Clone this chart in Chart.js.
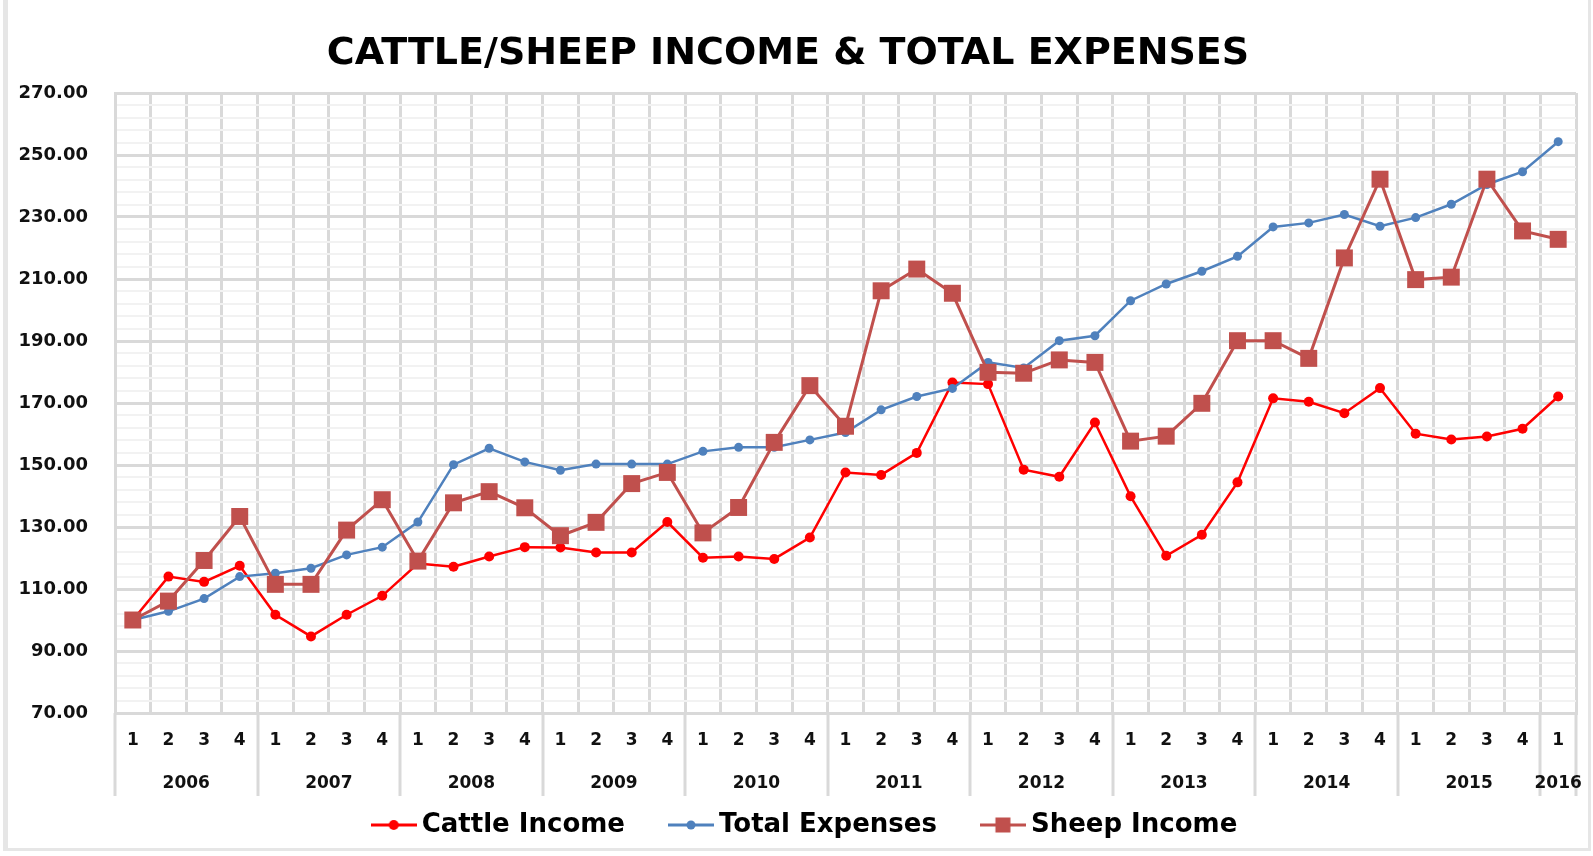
<!DOCTYPE html>
<html>
<head>
<meta charset="utf-8">
<script src="https://cdn.jsdelivr.net/npm/chart.js@4.4.1/dist/chart.umd.min.js"></script>
<style>
  html, body { margin: 0; padding: 0; background: #fff; }
  #wrap { position: relative; width: 1593px; height: 856px; }
  #frame { position: absolute; left: 3px; top: 0; width: 1580px; height: 848px;
           border-left: 5px solid #e6e6e6; border-right: 3px solid #e6e6e6; border-bottom: 3px solid #e6e6e6; }
  #myChart { position: absolute; left: 0; top: 0; }
</style>
</head>
<body>
<div id="wrap">
  <div id="frame"></div>
  <canvas id="myChart" width="1593" height="856"></canvas>
</div>
<script>
// Quarter labels, 2006 Q1 .. 2016 Q1
const quarters = [
    '1', '2', '3', '4', '1', '2', '3', '4', '1', '2', '3', '4',
    '1', '2', '3', '4', '1', '2', '3', '4', '1', '2', '3', '4',
    '1', '2', '3', '4', '1', '2', '3', '4', '1', '2', '3', '4',
    '1', '2', '3', '4', '1'
];
const years = ['2006', '2007', '2008', '2009', '2010', '2011', '2012', '2013', '2014', '2015', '2016'];
const quartersPerYear = [4, 4, 4, 4, 4, 4, 4, 4, 4, 4, 1];

// Index values (2006 Q1 = 100)
const cattleIncome = [
    100, 114.0, 112.3, 117.5, 101.7, 94.7, 101.7, 107.8, 118.2, 117.2, 120.5,
    123.5, 123.4, 121.8, 121.8, 131.6, 120.1, 120.5, 119.7, 126.6, 147.6,
    146.8, 153.9, 176.6, 176.1, 148.5, 146.2, 163.7, 139.9, 120.7, 127.5,
    144.4, 171.5, 170.4, 166.7, 174.8, 160.1, 158.2, 159.2, 161.7, 172.1
];
const totalExpenses = [
    100, 102.8, 106.9, 114.0, 115.1, 116.7, 121.0, 123.5, 131.6, 150.1, 155.4,
    151.0, 148.3, 150.3, 150.3, 150.3, 154.4, 155.7, 155.7, 158.1, 160.5,
    167.8, 172.1, 174.7, 183.1, 181.3, 190.1, 191.7, 203.0, 208.4, 212.5,
    217.3, 226.8, 228.1, 230.8, 227.0, 229.8, 234.1, 240.5, 244.6, 254.3
];
const sheepIncome = [
    100, 106.1, 119.2, 133.4, 111.5, 111.5, 129.0, 138.8, 119.0, 137.8, 141.4,
    136.2, 127.2, 131.5, 144.0, 147.6, 128.1, 136.3, 157.3, 175.6, 162.5,
    206.2, 213.2, 205.4, 179.9, 179.6, 183.9, 183.1, 157.7, 159.3, 169.9,
    190.1, 190.1, 184.4, 216.8, 242.2, 209.8, 210.6, 242.2, 225.5, 222.8
];

const RED = '#ff0000';
const BLUE = '#4f81bd';
const BRICK = '#c0504d';
const GRID = '#d9d9d9';
const MINOR = '#f2f2f2';
const TEXT = '#111111';
const FONT = "'DejaVu Sans', Verdana, sans-serif";

// Small line + marker icon for the legend (Excel style)
function legendIcon(color, style, r) {
    const c = document.createElement('canvas');
    c.width = 46;
    c.height = 20;
    const g = c.getContext('2d');
    g.strokeStyle = color;
    g.fillStyle = color;
    g.lineWidth = 3;
    g.beginPath();
    g.moveTo(0, 10);
    g.lineTo(46, 10);
    g.stroke();
    if (style === 'rect') {
        g.fillRect(23 - r, 10 - r, 2 * r, 2 * r);
    } else {
        g.beginPath();
        g.arc(23, 10, r, 0, Math.PI * 2);
        g.fill();
    }
    return c;
}
const icons = [legendIcon(RED, 'circle', 5), legendIcon(BLUE, 'circle', 4.5), legendIcon(BRICK, 'rect', 7.5)];

// Year labels and year separators under the quarter labels
const yearAxis = {
    id: 'yearAxis',
    afterLayout(chart) {
        // legend row sits a little right of centre in the original
        chart.legend.left += 40;
    },
    afterDraw(chart) {
        const x = chart.scales.x;
        const ctx = chart.ctx;
        const top = x.top;
        ctx.save();
        ctx.strokeStyle = GRID;
        ctx.lineWidth = 3;
        ctx.fillStyle = TEXT;
        ctx.font = 'bold 17px ' + FONT;
        ctx.textAlign = 'center';
        ctx.textBaseline = 'middle';
        let start = 0;
        years.forEach((yr, i) => {
            const left = x.getPixelForValue(start - 0.5);
            const right = x.getPixelForValue(start + quartersPerYear[i] - 0.5);
            ctx.beginPath();
            ctx.moveTo(Math.round(left), top);
            ctx.lineTo(Math.round(left), top + 83);
            ctx.stroke();
            if (i === years.length - 1) {
                ctx.beginPath();
                ctx.moveTo(Math.round(right), top);
                ctx.lineTo(Math.round(right), top + 83);
                ctx.stroke();
            }
            ctx.fillText(yr, (left + right) / 2, top + 71);
            start += quartersPerYear[i];
        });
        ctx.restore();
    }
};

const ctx = document.getElementById('myChart').getContext('2d');

const myChart = new Chart(ctx, {
    type: 'line',
    data: {
        labels: quarters,
        datasets: [{
            label: 'Cattle Income',
            data: cattleIncome,
            borderColor: RED,
            backgroundColor: RED,
            borderWidth: 2.5,
            pointRadius: 5,
            pointBorderWidth: 0,
            order: 3
        }, {
            label: 'Total Expenses',
            data: totalExpenses,
            borderColor: BLUE,
            backgroundColor: BLUE,
            borderWidth: 2.5,
            pointRadius: 4.5,
            pointBorderWidth: 0,
            order: 2
        }, {
            label: 'Sheep Income',
            data: sheepIncome,
            borderColor: BRICK,
            backgroundColor: BRICK,
            borderWidth: 3,
            pointStyle: 'rect',
            pointRadius: 12,
            pointBorderWidth: 0,
            order: 1
        }]
    },
    options: {
        responsive: false,
        animation: false,
        layout: {
            padding: { left: 0, right: 17, top: 0, bottom: 8 }
        },
        plugins: {
            title: {
                display: true,
                text: 'CATTLE/SHEEP INCOME & TOTAL EXPENSES',
                color: '#000',
                font: { family: FONT, size: 38, weight: 'bold' },
                padding: { top: 31, bottom: 16.4 }
            },
            legend: {
                position: 'bottom',
                labels: {
                    usePointStyle: true,
                    pointStyleWidth: 30,
                    boxHeight: 20,
                    padding: 51,
                    color: '#000',
                    font: { family: FONT, size: 26, weight: 'bold' },
                    generateLabels: (chart) => chart.data.datasets.map((ds, i) => ({
                        text: ds.label,
                        pointStyle: icons[i],
                        fillStyle: ds.borderColor,
                        strokeStyle: ds.borderColor,
                        lineWidth: 0,
                        hidden: false,
                        datasetIndex: i
                    }))
                }
            },
            tooltip: { enabled: false }
        },
        scales: {
            x: {
                offset: true,
                grid: { offset: true, color: GRID, lineWidth: 3, drawTicks: false },
                border: { color: GRID, width: 3 },
                ticks: {
                    color: TEXT,
                    font: { family: FONT, size: 17, weight: 'bold' },
                    padding: 17,
                    maxRotation: 0,
                    autoSkip: false
                },
                afterFit: (scale) => { scale.height = 48; }
            },
            y: {
                min: 70,
                max: 270,
                grid: {
                    drawTicks: false,
                    color: (c) => ((Math.round(c.tick.value) - 70) % 20 === 0 ? GRID : MINOR),
                    lineWidth: (c) => ((Math.round(c.tick.value) - 70) % 20 === 0 ? 3 : 2)
                },
                border: { color: GRID, width: 3 },
                ticks: {
                    stepSize: 4,
                    maxTicksLimit: 100,
                    autoSkip: false,
                    padding: 27,
                    color: TEXT,
                    font: { family: FONT, size: 18, weight: 'bold' },
                    callback: (v) => ((Math.round(v) - 70) % 20 === 0 ? v.toFixed(2) : '')
                },
                afterFit: (scale) => { scale.width = 115; }
            }
        }
    },
    plugins: [yearAxis]
});
</script>
</body>
</html>
